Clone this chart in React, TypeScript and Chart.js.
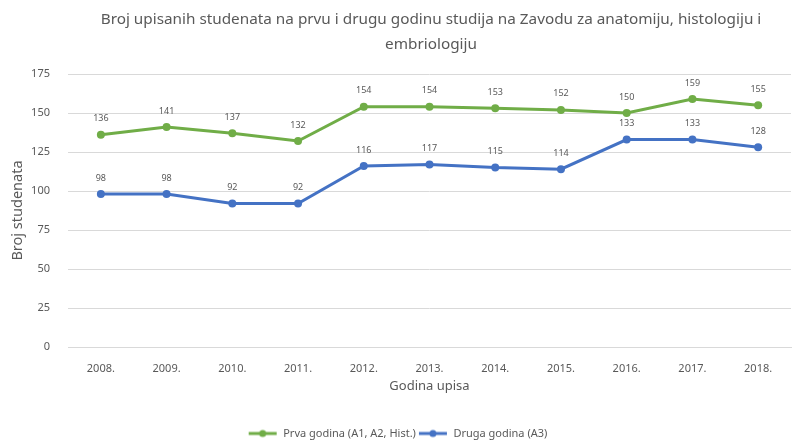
import React, { useEffect, useRef } from "react";
import { Chart, registerables } from "chart.js";

Chart.register(...registerables);

const years = ["2008.", "2009.", "2010.", "2011.", "2012.", "2013.", "2014.", "2015.", "2016.", "2017.", "2018."];
const prvaGodina = [136, 141, 137, 132, 154, 154, 153, 152, 150, 159, 155];
const drugaGodina = [98, 98, 92, 92, 116, 117, 115, 114, 133, 133, 128];
const yTicks = [0, 25, 50, 75, 100, 125, 150, 175];
const titleLines = [
  "Broj upisanih studenata na prvu i drugu godinu studija na Zavodu za anatomiju, histologiju i",
  "embriologiju",
];

const GREEN = "#70AD47";
const BLUE = "#4472C4";
const TEXT = "#595959";
const FONT = "'Noto Sans', 'Open Sans', sans-serif";

function legendIcon(color: string) {
  const c = document.createElement("canvas");
  c.width = 30;
  c.height = 10;
  const ctx = c.getContext("2d")!;
  ctx.strokeStyle = color;
  ctx.lineWidth = 3;
  ctx.beginPath();
  ctx.moveTo(1, 5);
  ctx.lineTo(29, 5);
  ctx.stroke();
  ctx.fillStyle = color;
  ctx.beginPath();
  ctx.arc(15, 5, 3.5, 0, Math.PI * 2);
  ctx.fill();
  return c;
}

const dataLabels = {
  id: "dataLabels",
  afterDatasetsDraw(chart: any) {
    const ctx = chart.ctx;
    ctx.save();
    ctx.font = `9px ${FONT}`;
    ctx.fillStyle = TEXT;
    ctx.textAlign = "center";
    ctx.textBaseline = "middle";
    chart.data.datasets.forEach((ds: any, i: number) => {
      const meta = chart.getDatasetMeta(i);
      meta.data.forEach((pt: any, j: number) => {
        ctx.fillText(String(ds.data[j]), pt.x, pt.y - 16);
      });
    });
    ctx.restore();
  },
};

const chartTitle = {
  id: "chartTitle",
  afterDraw(chart: any) {
    const ctx = chart.ctx;
    ctx.save();
    ctx.font = `15.3px ${FONT}`;
    ctx.fillStyle = TEXT;
    ctx.textAlign = "center";
    ctx.textBaseline = "middle";
    titleLines.forEach((line, i) => {
      ctx.fillText(line, 431, 20 + i * 25);
    });
    ctx.restore();
  },
};

export default function App() {
  const ref = useRef<HTMLCanvasElement>(null);
  useEffect(() => {
    const icons = [legendIcon(GREEN), legendIcon(BLUE)];
    const chart = new Chart(ref.current!, {
      type: "line",
      data: {
        labels: years,
        datasets: [
          {
            label: "Prva godina (A1, A2, Hist.)",
            data: prvaGodina,
            borderColor: GREEN,
            backgroundColor: GREEN,
            borderWidth: 3,
            pointRadius: 4,
            pointBorderWidth: 0,
            pointBackgroundColor: GREEN,
            pointBorderColor: GREEN,
            tension: 0,
          },
          {
            label: "Druga godina (A3)",
            data: drugaGodina,
            borderColor: BLUE,
            backgroundColor: BLUE,
            borderWidth: 3,
            pointRadius: 4,
            pointBorderWidth: 0,
            pointBackgroundColor: BLUE,
            pointBorderColor: BLUE,
            tension: 0,
          },
        ],
      },
      options: {
        responsive: false,
        animation: false,
        layout: { padding: { top: 74, right: 0, left: 0, bottom: -9 } },
        plugins: {
          title: { display: false },
          legend: {
            position: "bottom",
            labels: {
              color: TEXT,
              font: { family: FONT, size: 11 },
              usePointStyle: true,
              pointStyleWidth: 30,
              boxHeight: 10,
              padding: 2,
              generateLabels: (c: any) =>
                c.data.datasets.map((ds: any, i: number) => ({
                  text: ds.label,
                  fillStyle: ds.borderColor,
                  strokeStyle: ds.borderColor,
                  fontColor: TEXT,
                  pointStyle: icons[i],
                  datasetIndex: i,
                  hidden: false,
                  lineWidth: 0,
                })),
            },
          },
          tooltip: { enabled: false },
        },
        scales: {
          x: {
            offset: true,
            afterFit: (s: any) => {
              s.height = 79;
            },
            grid: { display: false },
            border: { display: true, color: "#d9d9d9" },
            ticks: { color: TEXT, font: { family: FONT, size: 11 }, padding: 7 },
            title: {
              display: true,
              text: "Godina upisa",
              color: TEXT,
              font: { family: FONT, size: 13 },
              padding: { top: 4, bottom: 32 },
            },
          },
          y: {
            min: 0,
            max: 175,
            afterBuildTicks: (s: any) => {
              s.ticks = yTicks.map((v) => ({ value: v }));
            },
            afterFit: (s: any) => {
              s.width = 68;
            },
            grid: { color: "#d9d9d9", drawTicks: false },
            border: { display: false },
            ticks: { color: TEXT, font: { family: FONT, size: 11 }, padding: 18 },
            title: {
              display: true,
              text: "Broj studenata",
              color: TEXT,
              font: { family: FONT, size: 14.5 },
              padding: { top: 9, bottom: 0 },
            },
          },
        },
      },
      plugins: [dataLabels, chartTitle],
    });
    return () => chart.destroy();
  }, []);
  return (
    <div style={{ position: "absolute", left: 0, top: 0, width: 795, height: 440, background: "#fff" }}>
      <canvas ref={ref} width={795} height={440} />
    </div>
  );
}
